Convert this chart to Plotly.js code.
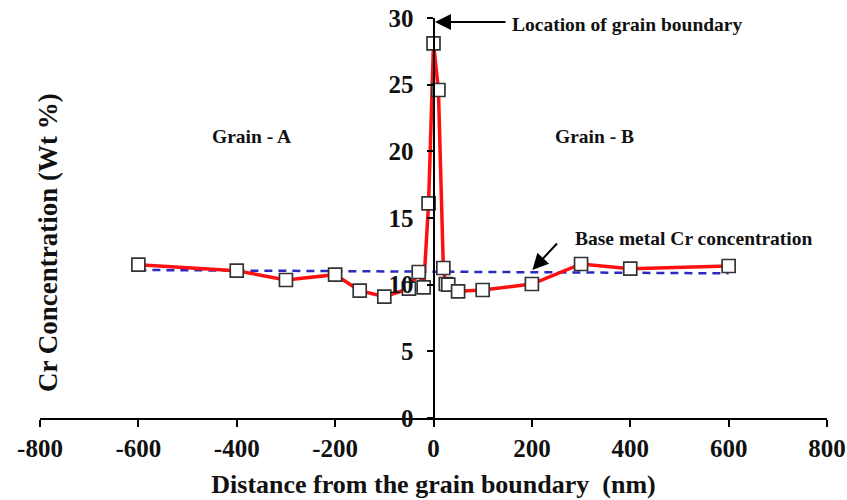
<!DOCTYPE html>
<html>
<head>
<meta charset="utf-8">
<script src="https://cdn.plot.ly/plotly-3.0.1.min.js"></script>
<style>html,body{margin:0;padding:0;background:#fff;}#chart{width:847px;height:500px;}</style>
</head>
<body>
<div id="chart"></div>
<script>
// Distance from grain boundary (nm) and measured Cr concentration (wt %)
const distance = [-600, -400, -300, -200, -150, -100, -50, -30, -20, -10, 0, 10, 20, 25, 30, 50, 100, 200, 300, 400, 600];
const crConc   = [11.5, 11.05, 10.35, 10.75, 9.55, 9.1, 9.7, 10.95, 9.8, 16.1, 28.1, 24.6, 11.25, 10.05, 10.0, 9.5, 9.6, 10.05, 11.55, 11.2, 11.4];
// Base metal Cr concentration reference line
const baseX = [-600, 600];
const baseY = [11.1, 10.85];
const xTicks = [-800, -600, -400, -200, 0, 200, 400, 600, 800];
const yTicks = [0, 5, 10, 15, 20, 25, 30];

const FONT = 'Liberation Serif, Times New Roman, serif';

const traces = [
  {
    x: baseX, y: baseY, type: 'scatter', mode: 'lines',
    line: {color: '#2a2ac0', width: 2.5, dash: '8px,6px'},
    hoverinfo: 'skip'
  },
  {
    x: distance, y: crConc, type: 'scatter', mode: 'lines+markers',
    line: {color: '#ff1010', width: 3.5},
    marker: {symbol: 'square', size: 13, color: '#ffffff', line: {color: '#333333', width: 1.7}}
  }
];

const layout = {
  width: 847, height: 500,
  margin: {l: 40, r: 20, t: 18, b: 82},
  paper_bgcolor: '#fff', plot_bgcolor: '#fff',
  showlegend: false,
  font: {family: FONT, color: '#111'},
  xaxis: {
    range: [-800, 800], tickvals: xTicks, ticktext: xTicks.map(String),
    showgrid: false, zeroline: false,
    showline: true, linecolor: '#000', linewidth: 2,
    ticks: 'outside', ticklen: 7, tickwidth: 2, tickcolor: '#000',
    tickfont: {family: FONT, size: 25, weight: 'bold', color: '#111'},
    title: {text: 'Distance from the grain boundary\u00a0\u00a0(nm)', font: {family: FONT, size: 26, weight: 'bold', color: '#111'}, standoff: 14}
  },
  yaxis: {
    range: [0, 30], tickvals: yTicks, ticktext: yTicks.map(String),
    anchor: 'free', position: 0.5, side: 'left',
    showgrid: false, zeroline: false,
    showline: true, linecolor: '#000', linewidth: 2,
    ticks: 'outside', ticklen: 6, tickwidth: 2, tickcolor: '#000',
    ticklabelstandoff: 8,
    tickfont: {family: FONT, size: 25, weight: 'bold', color: '#111'}
  },
  annotations: [
    {xref: 'paper', yref: 'paper', x: 0.0102, y: 0.4375, xanchor: 'center', yanchor: 'middle',
     text: 'Cr Concentration (Wt %)', textangle: -90, showarrow: false,
     font: {family: FONT, size: 27, weight: 'bold', color: '#111'}},
    {x: -370, y: 21.1, text: 'Grain - A', showarrow: false,
     font: {family: FONT, size: 19.5, weight: 'bold', color: '#111'}},
    {x: 327, y: 21.1, text: 'Grain - B', showarrow: false,
     font: {family: FONT, size: 19.5, weight: 'bold', color: '#111'}},
    {x: 155, y: 29.55, xanchor: 'left', text: 'Location of grain boundary', showarrow: false,
     font: {family: FONT, size: 19.5, weight: 'bold', color: '#111'}},
    {x: 283, y: 13.5, xanchor: 'left', text: 'Base metal Cr concentration', showarrow: false,
     font: {family: FONT, size: 19.5, weight: 'bold', color: '#111'}},
    {x: 3, y: 29.7, text: '', showarrow: true, ax: 72, ay: 0,
     arrowhead: 2, arrowsize: 1.6, arrowwidth: 2, arrowcolor: '#000'},
    {x: 201, y: 11.1, text: '', showarrow: true, ax: 26, ay: -28,
     arrowhead: 2, arrowsize: 1.6, arrowwidth: 2, arrowcolor: '#000'}
  ]
};

Plotly.newPlot('chart', traces, layout, {displayModeBar: false, staticPlot: true});
</script>
</body>
</html>
